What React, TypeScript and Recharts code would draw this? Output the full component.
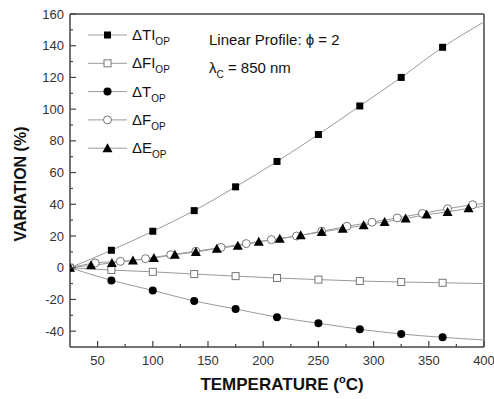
import { LineChart, Line, XAxis, YAxis, ReferenceLine, Legend } from 'recharts';

// temperatures (°C) and variations (%)
const TEMP_SQ = [25, 62.5, 100, 137.5, 175, 212.5, 250, 287.5, 325, 362.5, 400];
const D_TI = [0, 11, 23, 36, 51, 67, 84, 102, 120, 139, 155];
const D_FI = [0, -1.5, -2.6, -4, -5.3, -6.5, -7.5, -8.4, -9, -9.5, -10];
const D_T = [0, -8, -14.3, -21, -26, -31.2, -35, -38.8, -41.8, -43.9, -45.6];

const TEMP_F = [25, 47.8, 70.6, 93.4, 116.2, 139, 161.8, 184.6, 207.4, 230.2, 253, 275.8, 298.6, 321.4, 344.2, 367, 389.8, 400];
const D_F = [0, 3, 4, 5.7, 8.2, 10.4, 12.8, 15.2, 17.7, 20, 23, 26.1, 28.7, 31.4, 34.2, 37.2, 39.7, 40.5];

const TEMP_E = [25, 44, 63, 82, 101, 120, 139, 158, 177, 196, 215, 234, 253, 272, 291, 310, 329, 348, 367, 386, 400];
const D_E = [0, 1.5, 3, 4.6, 6.1, 8.2, 9.9, 12, 13.9, 16.3, 18.2, 20.4, 22.6, 24.5, 26.8, 28.9, 31, 33.5, 35.2, 37.5, 38.8];

const X_TICKS = [50, 75, 100, 125, 150, 175, 200, 225, 250, 275, 300, 325, 350, 375, 400];
const Y_TICKS = [-40, -30, -20, -10, 0, 10, 20, 30, 40, 50, 60, 70, 80, 90, 100, 110, 120, 130, 140, 150, 160];

const FONT = '"Liberation Sans", Arial, sans-serif';
const AXIS = '#444';
const LINE = '#9a9a9a';
const PLOT = { left: 70, right: 484, top: 14, bottom: 347 };

type Marker = 'square' | 'squareOpen' | 'circle' | 'circleOpen' | 'triangle';

const toRows = (xs: number[], ys: number[]) => xs.map((t, i) => ({ t, v: ys[i] }));

const SERIES = [
  { name: 'ΔTI', data: toRows(TEMP_SQ, D_TI), marker: 'square' as Marker },
  { name: 'ΔFI', data: toRows(TEMP_SQ, D_FI), marker: 'squareOpen' as Marker },
  { name: 'ΔT', data: toRows(TEMP_SQ, D_T), marker: 'circle' as Marker },
  { name: 'ΔF', data: toRows(TEMP_F, D_F), marker: 'circleOpen' as Marker },
  { name: 'ΔE', data: toRows(TEMP_E, D_E), marker: 'triangle' as Marker },
];

function drawMarker(kind: Marker, cx: number, cy: number, key?: any) {
  switch (kind) {
    case 'square':
      return <rect key={key} x={cx - 3.5} y={cy - 3.5} width={7} height={7} fill="#000" />;
    case 'squareOpen':
      return <rect key={key} x={cx - 3.5} y={cy - 3.5} width={7} height={7} fill="#fff" stroke="#777" />;
    case 'circle':
      return <circle key={key} cx={cx} cy={cy} r={4} fill="#000" />;
    case 'circleOpen':
      return <circle key={key} cx={cx} cy={cy} r={4} fill="#fff" stroke="#777" />;
    default:
      return <polygon key={key} points={`${cx},${cy - 5} ${cx + 5},${cy + 4} ${cx - 5},${cy + 4}`} fill="#000" />;
  }
}

const dotFor = (kind: Marker) => (props: any) => {
  const { cx, cy, payload, index } = props;
  // the curve runs on to 400 °C but has no symbol there
  if (payload.t >= 400) return <g key={index} />;
  return drawMarker(kind, cx, cy, index);
};

function XTick({ x, payload }: any) {
  const major = payload.value % 50 === 0;
  return (
    <g>
      <line x1={x} x2={x} y1={PLOT.bottom} y2={PLOT.bottom - (major ? 6 : 3)} stroke={AXIS} strokeWidth={1.2} />
      {major && (
        <text x={x} y={PLOT.bottom + 18} textAnchor="middle" fontSize={13} fill="#333" fontFamily={FONT}>
          {payload.value}
        </text>
      )}
    </g>
  );
}

function YTick({ y, payload }: any) {
  const major = payload.value % 20 === 0;
  return (
    <g>
      <line x1={PLOT.left} x2={PLOT.left + (major ? 6 : 3)} y1={y} y2={y} stroke={AXIS} strokeWidth={1.2} />
      {major && (
        <text x={PLOT.left - 6} y={y + 4.5} textAnchor="end" fontSize={13} fill="#333" fontFamily={FONT}>
          {payload.value}
        </text>
      )}
    </g>
  );
}

function LegendBox() {
  return (
    <svg width={130} height={150} style={{ fontFamily: FONT }}>
      {SERIES.map((s, i) => {
        const y = 10 + i * 28.3;
        return (
          <g key={s.name}>
            <line x1={0} x2={39} y1={y} y2={y} stroke={LINE} />
            {drawMarker(s.marker, 19.5, y)}
            <text x={44} y={y + 5} fontSize={15} fill="#111">
              {s.name}
              <tspan fontSize={10} dy={5}>OP</tspan>
            </text>
          </g>
        );
      })}
    </svg>
  );
}

export default function App() {
  return (
    <div style={{ position: 'absolute', left: 0, top: 0, background: '#fff' }}>
      <LineChart width={494} height={399} margin={{ top: 14, right: 10, bottom: 0, left: 0 }}>
        <XAxis
          dataKey="t"
          type="number"
          domain={[25, 400]}
          ticks={X_TICKS}
          interval={0}
          allowDataOverflow
          height={52}
          tickLine={false}
          tickSize={0}
          tick={<XTick />}
          axisLine={{ stroke: AXIS, strokeWidth: 1.5 }}
          label={{
            content: () => (
              <text x={282} y={390} textAnchor="middle" fontSize={17} fontWeight="bold" fill="#111" fontFamily={FONT}>
                TEMPERATURE (<tspan fontSize={11} dy={-7}>o</tspan>
                <tspan dy={7}>C)</tspan>
              </text>
            ),
          }}
        />
        <YAxis
          type="number"
          domain={[-50, 160]}
          ticks={Y_TICKS}
          interval={0}
          allowDataOverflow
          width={70}
          tickLine={false}
          tickSize={0}
          tick={<YTick />}
          axisLine={{ stroke: AXIS, strokeWidth: 1.5 }}
          label={{
            content: () => (
              <text
                x={26}
                y={184}
                transform="rotate(-90 26 184)"
                textAnchor="middle"
                fontSize={16}
                fontWeight="bold"
                fill="#111"
                fontFamily={FONT}
              >
                VARIATION (%)
              </text>
            ),
          }}
        />
        <ReferenceLine y={160} stroke={AXIS} strokeWidth={1.5} />
        <ReferenceLine x={400} stroke={AXIS} strokeWidth={1.5} />
        {SERIES.map((s) => (
          <Line
            key={s.name}
            data={s.data}
            dataKey="v"
            name={s.name}
            type="monotone"
            stroke={LINE}
            strokeWidth={1}
            dot={dotFor(s.marker)}
            activeDot={false}
            isAnimationActive={false}
          />
        ))}
        <Legend
          layout="vertical"
          align="center"
          verticalAlign="middle"
          content={() => <LegendBox />}
          wrapperStyle={{ position: 'absolute', left: 88, top: 25, width: 130, height: 150 }}
        />
      </LineChart>
      <svg
        width={494}
        height={399}
        style={{ position: 'absolute', left: 0, top: 0, pointerEvents: 'none', fontFamily: FONT }}
      >
        <text x={209} y={45} fontSize={15} fill="#111">
          Linear Profile: ϕ = 2
        </text>
        <text x={209} y={73} fontSize={15} fill="#111">
          λ<tspan fontSize={10} dy={5}>C</tspan>
          <tspan dy={-5}> = 850 nm</tspan>
        </text>
      </svg>
    </div>
  );
}
